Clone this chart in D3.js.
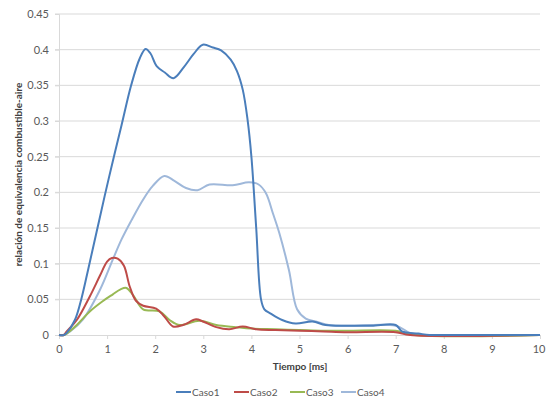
<!DOCTYPE html>
<html><head><meta charset="utf-8">
<script src="https://cdn.jsdelivr.net/npm/d3@7"></script>
<style>body{margin:0;background:#fff}svg{display:block}text{font-family:Lato,"Open Sans",sans-serif}</style>
</head><body>
<script>
const xTicks = [0,1,2,3,4,5,6,7,8,9,10];
const yTicks = [0,0.05,0.1,0.15,0.2,0.25,0.3,0.35,0.4,0.45];
const seriesNames = ["Caso1","Caso2","Caso3","Caso4"];
const caso1 = [[0,0],[0.1,0],[0.16,0.003],[0.33,0.021],[0.47,0.052],[0.61,0.093],[0.78,0.144],[0.95,0.195],[1.12,0.244],[1.3,0.294],[1.5,0.350],[1.68,0.388],[1.8,0.401],[1.9,0.395],[2.03,0.377],[2.2,0.368],[2.38,0.360],[2.6,0.376],[2.8,0.394],[2.99,0.407],[3.2,0.403],[3.37,0.399],[3.57,0.386],[3.7,0.37],[3.82,0.344],[3.92,0.302],[4.0,0.25],[4.1,0.15],[4.2,0.05],[4.27,0.036],[4.4,0.030],[4.64,0.021],[4.92,0.016],[5.27,0.019],[5.54,0.014],[6.0,0.013],[6.5,0.013],[7.0,0.014],[7.13,0.005],[7.47,0.002],[7.7,0],[8,0],[10,0]];
const caso2 = [[0,0],[0.1,0],[0.16,0.005],[0.37,0.021],[0.64,0.054],[0.85,0.083],[1.0,0.103],[1.1,0.108],[1.22,0.107],[1.35,0.097],[1.47,0.068],[1.6,0.048],[1.75,0.041],[2.02,0.037],[2.19,0.026],[2.37,0.012],[2.58,0.014],[2.85,0.022],[2.99,0.019],[3.27,0.011],[3.54,0.008],[3.82,0.012],[4.1,0.008],[4.5,0.007],[5.0,0.006],[5.5,0.005],[6.0,0.004],[7.0,0.004],[7.3,0],[10,0]];
const caso3 = [[0,0],[0.1,0],[0.16,0.002],[0.37,0.014],[0.64,0.033],[0.9,0.047],[1.12,0.057],[1.28,0.064],[1.4,0.066],[1.55,0.055],[1.75,0.036],[2.09,0.033],[2.3,0.021],[2.51,0.014],[2.92,0.020],[3.27,0.014],[3.68,0.011],[4.0,0.009],[4.5,0.008],[5.0,0.007],[5.5,0.006],[6.0,0.006],[7.0,0.006],[7.4,0],[10,0]];
const caso4 = [[0,0],[0.1,0],[0.23,0.005],[0.5,0.022],[0.85,0.063],[1.12,0.106],[1.3,0.134],[1.5,0.16],[1.75,0.19],[1.95,0.209],[2.19,0.223],[2.4,0.216],[2.64,0.206],[2.88,0.203],[3.13,0.211],[3.61,0.210],[3.95,0.214],[4.15,0.211],[4.3,0.199],[4.45,0.17],[4.58,0.143],[4.78,0.091],[4.95,0.036],[5.13,0.023],[5.34,0.019],[5.61,0.014],[6.0,0.013],[7.0,0.013],[7.3,0.003],[7.6,0],[10,0]];
const allSeries = [caso1, caso2, caso3, caso4];
const colors = ["#4a7ebb","#be4b48","#98b954","#9fb8da"];

const W = 546, H = 399;
const m = {l:59};
const svg = d3.select("body").append("svg").attr("width", W).attr("height", H);
const x = d3.scaleLinear().domain([0,10]).range([m.l, 540]);
const y = d3.scaleLinear().domain([0,0.45]).range([335, 14]);

svg.append("g").selectAll("line").data(yTicks.filter(d=>d>0)).join("line")
  .attr("x1", m.l-4).attr("x2", x(10)).attr("y1", d=>y(d)).attr("y2", d=>y(d))
  .attr("stroke", "#d9d9d9").attr("stroke-width", 1);

const yAxis = svg.append("g").attr("transform", `translate(${m.l},0)`)
  .call(d3.axisLeft(y).tickValues(yTicks).tickFormat(d=>String(+d.toFixed(2))).tickSize(4).tickPadding(6));
yAxis.select(".domain").attr("stroke","#d9d9d9");
yAxis.selectAll(".tick line").attr("stroke","#d9d9d9");
yAxis.selectAll("text").attr("fill","#595959").style("font-size","11px");

const xAxis = svg.append("g").attr("transform", `translate(0,${y(0)})`)
  .call(d3.axisBottom(x).tickValues(xTicks).tickFormat(d3.format("d")).tickSize(4).tickPadding(6));
xAxis.select(".domain").attr("stroke","#d9d9d9");
xAxis.selectAll(".tick line").attr("stroke","#d9d9d9");
xAxis.selectAll("text").attr("fill","#595959").style("font-size","11px");
xAxis.selectAll(".tick").filter(d=>d===10).select("text").attr("text-anchor","end").attr("dx","5");

const line = d3.line().x(d=>x(d[0])).y(d=>y(d[1])).curve(d3.curveCatmullRom.alpha(0.5));
svg.append("g").selectAll("path").data([3,2,1,0]).join("path")
  .attr("d", i=>line(allSeries[i])).attr("fill","none")
  .attr("stroke", i=>colors[i]).attr("stroke-width", 2).attr("stroke-linejoin","round");

svg.append("text").attr("x", 300).attr("y", 370).attr("text-anchor","middle")
  .attr("fill","#404040").style("font-size","10px").style("font-weight","bold").text("Tiempo [ms]");
svg.append("text").attr("transform", `translate(22,${(14+335)/2}) rotate(-90)`).attr("text-anchor","middle")
  .attr("fill","#404040").style("font-size","10px").style("font-weight","bold").text("relación de equivalencia combustible-aire");

const legX = [176, 234, 290, 341];
const leg = svg.append("g").selectAll("g").data(seriesNames).join("g")
  .attr("transform", (d,i)=>`translate(${legX[i]},392)`);
leg.append("line").attr("x1",0).attr("x2",15).attr("y1",0).attr("y2",0)
  .attr("stroke",(d,i)=>colors[i]).attr("stroke-width",2);
leg.append("text").attr("x",16).attr("y",3.5).attr("fill","#595959").style("font-size","10px").text(d=>d);
</script>
</body></html>
